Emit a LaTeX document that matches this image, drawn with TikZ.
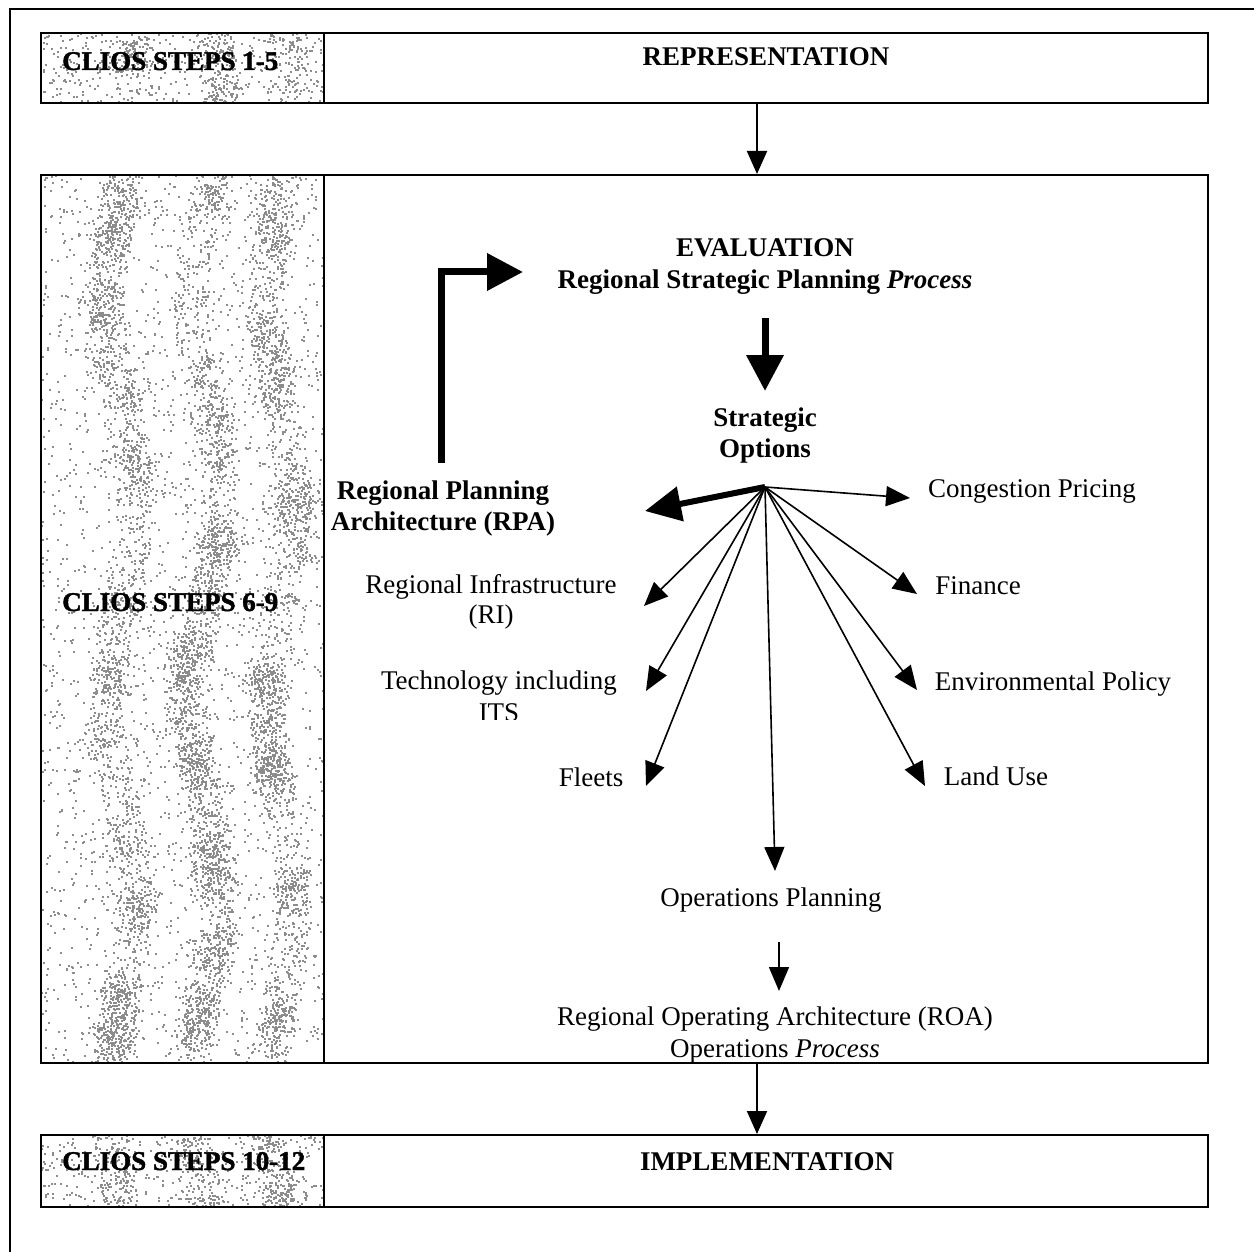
\documentclass[tikz,border=0pt]{standalone}
\usepackage{fontspec}
\setmainfont{Liberation Serif}
% heavier face for the step-cell captions
\newfontfamily\stepfont{Liberation Serif}[BoldFeatures={FakeBold=1.6}]
\usetikzlibrary{arrows.meta}

% speckled grey fill for the step cells: uniform grain, vertical streaks, clumps
\newcommand\speckle[5]{%
  \foreach \i in {1,...,#5}{%
    \pgfmathsetmacro\px{#1+(#3-#1)*rnd}%
    \pgfmathsetmacro\py{#2+(#4-#2)*rnd}%
    \fill[grain] (\px,\py) rectangle ++(2,2);
  }}
\newcommand\streaks[5]{%
  \foreach \i in {1,...,#5}{%
    \pgfmathsetmacro\py{#2+(#4-#2)*rnd}%
    \pgfmathsetmacro\band{{0.28,0.58,0.84}[int(2.99*rnd)]}%
    \pgfmathsetmacro\px{#1+(#3-#1)*\band+14*sin(\py*0.9)+36*(rnd-0.5)}%
    \fill[grain] (\px,\py) rectangle ++(2,2);
  }}
\newcommand\clumps[5]{%
  \foreach \c in {1,...,#5}{%
    \pgfmathsetmacro\cy{#2+(#4-#2)*rnd}%
    \pgfmathsetmacro\band{{0.28,0.58,0.84}[int(2.99*rnd)]}%
    \pgfmathsetmacro\cx{#1+(#3-#1)*\band+14*sin(\cy*0.9)+24*(rnd-0.5)}%
    \foreach \k in {1,...,45}{%
      \pgfmathsetmacro\px{\cx+22*(rnd+rnd-1)}%
      \pgfmathsetmacro\py{\cy+26*(rnd+rnd-1)}%
      \fill[grain] (\px,\py) rectangle ++(2,2);
    }
  }}

\tikzset{
  grain/.style={fill=black!45},
  frame/.style={draw=black, line width=2pt},
  lbl/.style={inner sep=0pt, anchor=base, font=\fontsize{27}{31}\selectfont},
  blbl/.style={lbl, font=\fontsize{27}{31}\selectfont\bfseries},
  steplbl/.style={inner sep=0pt, anchor=base west, font=\stepfont\fontsize{27}{31}\selectfont\bfseries},
  flow/.style={line width=2pt, -{Triangle[length=23pt,width=20pt]}},
  thin/.style={line width=1.6pt, -{Triangle[length=24pt,width=20pt]}},
  heavy/.style={line width=7pt, -{Triangle[length=36pt,width=36pt]}},
}

\begin{document}
\begin{tikzpicture}[x=1pt,y=-1pt]
\useasboundingbox (0,0) rectangle (1254,1252);
\fill[white] (0,0) rectangle (1254,1252);

% outer frame (runs off the page at right and bottom)
\draw[line width=2pt] (10,1252) -- (10,9) -- (1254,9);

\pgfmathsetseed{42}
% ---- cell textures
\begin{scope}
  \clip (41,33) rectangle (324,103);
  \speckle{41}{33}{324}{103}{380}
  \streaks{41}{33}{324}{103}{240}
  \clumps{41}{33}{324}{103}{5}
\end{scope}
\begin{scope}
  \clip (41,175) rectangle (324,1063);
  \speckle{41}{175}{324}{1063}{2400}
  \streaks{41}{175}{324}{1063}{3200}
  \clumps{41}{175}{324}{1063}{90}
\end{scope}
\begin{scope}
  \clip (41,1135) rectangle (324,1207);
  \speckle{41}{1135}{324}{1207}{380}
  \streaks{41}{1135}{324}{1207}{280}
  \clumps{41}{1135}{324}{1207}{7}
\end{scope}

% ---- the three stage boxes
\draw[frame] (41,33) rectangle (1208,103);
\draw[frame] (324,33) -- (324,103);
\draw[frame] (41,175) rectangle (1208,1063);
\draw[frame] (324,175) -- (324,1063);
\draw[frame] (41,1135) rectangle (1208,1207);
\draw[frame] (324,1135) -- (324,1207);

\node[steplbl] (s15) at (62,70) {CLIOS STEPS 1-5};
\node[blbl] (rep) at (766,66) {REPRESENTATION};
\node[steplbl] (s69) at (62,611) {CLIOS STEPS 6-9};
\node[steplbl] (s1012) at (62,1170) {CLIOS STEPS 10-12};
\node[blbl] (imp) at (767,1170) {IMPLEMENTATION};

% ---- evaluation contents
\node[blbl] (eval) at (765,257) {EVALUATION};
\node[blbl] (rspp) at (765,289) {Regional Strategic Planning \textit{Process}};
\node[blbl] (so1) at (765,426) {Strategic};
\node[blbl] (so2) at (765,457) {Options};
\node[blbl] (rpa1) at (443,499) {Regional Planning};
\node[blbl] (rpa2) at (443,530) {Architecture (RPA)};

\node[lbl] (cp) at (1032,497) {Congestion Pricing};
\node[lbl] (fin) at (978,594) {Finance};
\node[lbl] (env) at (1053,690) {Environmental Policy};
\node[lbl] (lu) at (996,785) {Land Use};
\node[lbl] (ri1) at (491,593) {Regional Infrastructure};
\node[lbl] (ri2) at (491,623) {(RI)};
\node[lbl] (tech1) at (499,689) {Technology including};
\begin{scope}
  \clip (380,700) rectangle (640,719);
  \node[lbl] (tech2) at (499,721) {ITS};
\end{scope}
\node[lbl] (fl) at (591,786) {Fleets};
\node[lbl] (op) at (771,906) {Operations Planning};
\node[lbl] (roa1) at (775,1025) {Regional Operating Architecture (ROA)};
\node[lbl] (roa2) at (775,1057) {Operations \textit{Process}};

% ---- connector end points
\coordinate (hub) at (765,487);
\coordinate (repOut) at (757,103);
\coordinate (evalIn) at (757,174);
\coordinate (evalOut) at (757,1063);
\coordinate (impIn) at (757,1134);
\coordinate (rsppOut) at (765,318);
\coordinate (soIn) at (765,391);
\coordinate (rpaOut) at (441,463);
\coordinate (rpaBend) at (441,272);
\coordinate (rsppIn) at (523,272);
\coordinate (rpaIn) at (645,511);
\coordinate (cpIn) at (910,498);
\coordinate (finIn) at (917,594);
\coordinate (envIn) at (917,690);
\coordinate (luIn) at (925,786);
\coordinate (riIn) at (644,606);
\coordinate (techIn) at (646,691);
\coordinate (flIn) at (646,786);
\coordinate (opIn) at (775,871);
\coordinate (opOut) at (779,942);
\coordinate (roaIn) at (779,991);

% ---- connectors
\draw[flow] (repOut) -- (evalIn);
\draw[flow] (evalOut) -- (impIn);
\draw[heavy] (rsppOut) -- (soIn);
\draw[line width=7pt, -{Triangle[length=36pt,width=36pt]}]
  (rpaOut) -- (rpaBend) -- (rsppIn);
\draw[line width=6pt, -{Triangle[length=36pt,width=34pt]}] (hub) -- (rpaIn);
\draw[thin] (hub) -- (cpIn);
\draw[thin] (hub) -- (finIn);
\draw[thin] (hub) -- (envIn);
\draw[thin] (hub) -- (luIn);
\draw[thin] (hub) -- (riIn);
\draw[thin] (hub) -- (techIn);
\draw[thin] (hub) -- (flIn);
\draw[thin] (hub) -- (opIn);
\draw[thin] (opOut) -- (roaIn);
\end{tikzpicture}
\end{document}
